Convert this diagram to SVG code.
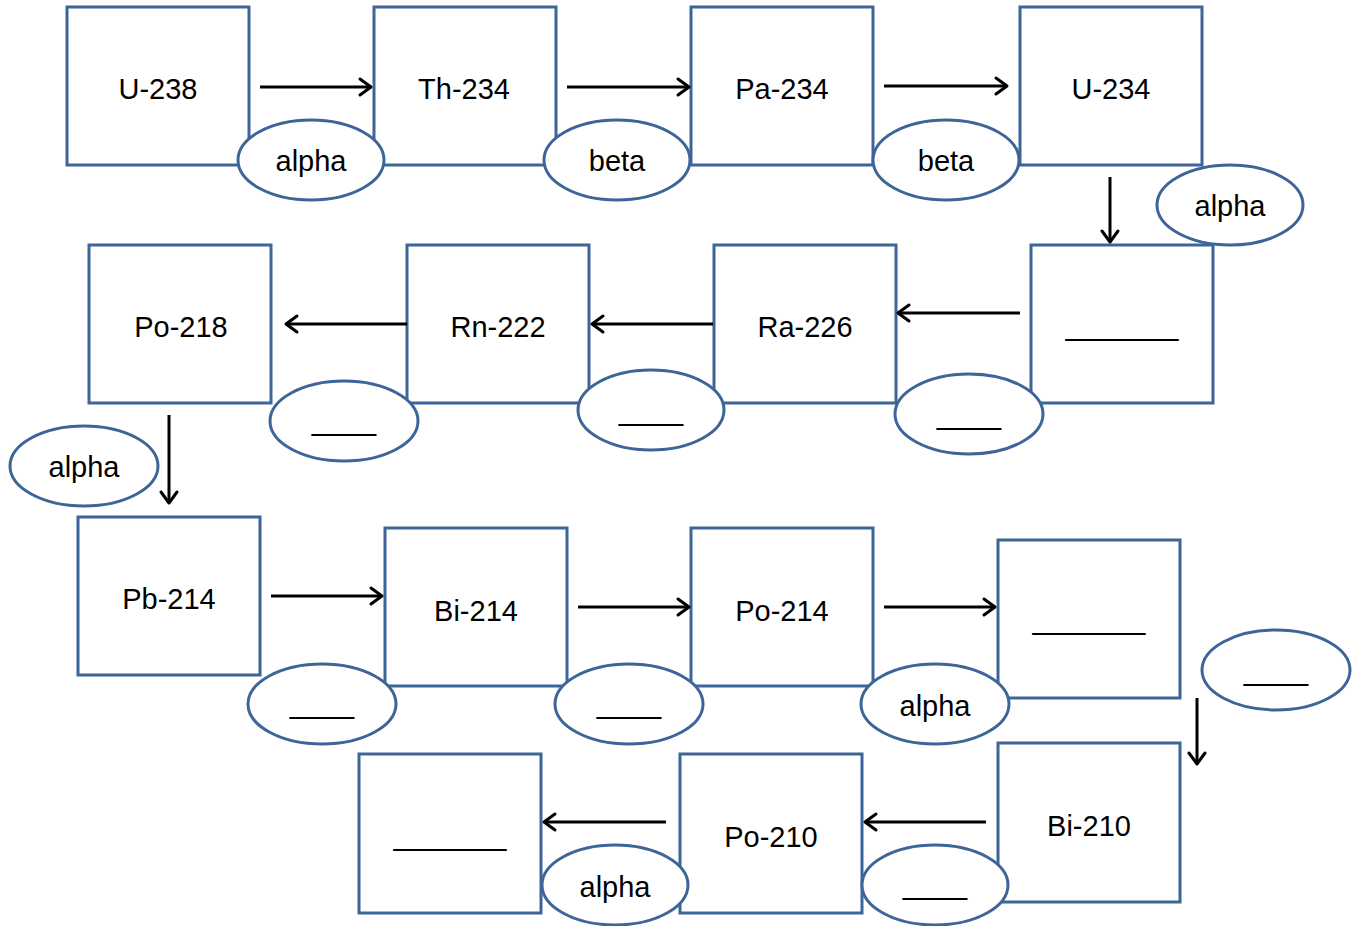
<svg xmlns="http://www.w3.org/2000/svg" width="1358" height="926" viewBox="0 0 1358 926">
<style>
.box{fill:#fff;stroke:#3d6598;stroke-width:3}
.ell{fill:#fff;stroke:#3d6598;stroke-width:3}
text{font-family:"Liberation Sans",Arial,sans-serif;font-size:29px;fill:#000;text-anchor:middle}
.arr{stroke:#000;stroke-width:3;fill:none;marker-end:url(#ah)}
</style>
<defs>
<marker id="ah" markerUnits="userSpaceOnUse" markerWidth="20" markerHeight="22" viewBox="-14 -11 16 22" refX="0" refY="0" orient="auto">
<path d="M-11,-8 L0,0 L-11,8" fill="none" stroke="#000" stroke-width="3" stroke-linecap="round" stroke-linejoin="round"/>
</marker>
</defs>
<rect width="1358" height="926" fill="#fff"/>
<!-- boxes -->
<g id="n-u238"><rect class="box" x="67" y="7" width="182" height="158"/><text x="158" y="99">U-238</text></g>
<g id="n-th234"><rect class="box" x="374" y="7" width="182" height="158"/><text x="464" y="99">Th-234</text></g>
<g id="n-pa234"><rect class="box" x="691" y="7" width="182" height="158"/><text x="782" y="99">Pa-234</text></g>
<g id="n-u234"><rect class="box" x="1020" y="7" width="182" height="158"/><text x="1111" y="99">U-234</text></g>
<g id="n-blank1"><rect class="box" x="1031" y="245" width="182" height="158"/><text x="1122" y="335">_______</text></g>
<g id="n-ra226"><rect class="box" x="714" y="245" width="182" height="158"/><text x="805" y="337">Ra-226</text></g>
<g id="n-rn222"><rect class="box" x="407" y="245" width="182" height="158"/><text x="498" y="337">Rn-222</text></g>
<g id="n-po218"><rect class="box" x="89" y="245" width="182" height="158"/><text x="181" y="337">Po-218</text></g>
<g id="n-pb214"><rect class="box" x="78" y="517" width="182" height="158"/><text x="169" y="609">Pb-214</text></g>
<g id="n-bi214"><rect class="box" x="385" y="528" width="182" height="158"/><text x="476" y="621">Bi-214</text></g>
<g id="n-po214"><rect class="box" x="691" y="528" width="182" height="158"/><text x="782" y="621">Po-214</text></g>
<g id="n-blank2"><rect class="box" x="998" y="540" width="182" height="158"/><text x="1089" y="629">_______</text></g>
<g id="n-bi210"><rect class="box" x="998" y="743" width="182" height="159"/><text x="1089" y="836">Bi-210</text></g>
<g id="n-po210"><rect class="box" x="680" y="754" width="182" height="159"/><text x="771" y="847">Po-210</text></g>
<g id="n-blank3"><rect class="box" x="359" y="754" width="182" height="159"/><text x="450" y="845">_______</text></g>
<!-- decay labels -->
<g id="d1"><ellipse class="ell" cx="311" cy="160" rx="73" ry="40"/><text x="311" y="171">alpha</text></g>
<g id="d2"><ellipse class="ell" cx="617" cy="160" rx="73" ry="40"/><text x="617" y="171">beta</text></g>
<g id="d3"><ellipse class="ell" cx="946" cy="160" rx="73" ry="40"/><text x="946" y="171">beta</text></g>
<g id="d4"><ellipse class="ell" cx="1230" cy="205" rx="73" ry="40"/><text x="1230" y="216">alpha</text></g>
<g id="d5"><ellipse class="ell" cx="969" cy="414" rx="74" ry="40"/><text x="969" y="424">____</text></g>
<g id="d6"><ellipse class="ell" cx="651" cy="410" rx="73" ry="40"/><text x="651" y="420">____</text></g>
<g id="d7"><ellipse class="ell" cx="344" cy="421" rx="74" ry="40"/><text x="344" y="430">____</text></g>
<g id="d8"><ellipse class="ell" cx="84" cy="466" rx="74" ry="40"/><text x="84" y="477">alpha</text></g>
<g id="d9"><ellipse class="ell" cx="322" cy="704" rx="74" ry="40"/><text x="322" y="713">____</text></g>
<g id="d10"><ellipse class="ell" cx="629" cy="704" rx="74" ry="40"/><text x="629" y="713">____</text></g>
<g id="d11"><ellipse class="ell" cx="935" cy="704" rx="74" ry="40"/><text x="935" y="716">alpha</text></g>
<g id="d12"><ellipse class="ell" cx="1276" cy="670" rx="74" ry="40"/><text x="1276" y="680">____</text></g>
<g id="d13"><ellipse class="ell" cx="935" cy="885" rx="73" ry="40"/><text x="935" y="894">____</text></g>
<g id="d14"><ellipse class="ell" cx="615" cy="885" rx="73" ry="40"/><text x="615" y="897">alpha</text></g>
<!-- connectors -->
<g id="connectors">
<line class="arr" x1="260" y1="87" x2="371" y2="87"/>
<line class="arr" x1="567" y1="87" x2="689" y2="87"/>
<line class="arr" x1="884" y1="86" x2="1007" y2="86"/>
<line class="arr" x1="1110" y1="177" x2="1110" y2="242"/>
<line class="arr" x1="1020" y1="313" x2="898" y2="313"/>
<line class="arr" x1="713" y1="324" x2="592" y2="324"/>
<line class="arr" x1="407" y1="324" x2="286" y2="324"/>
<line class="arr" x1="169" y1="415" x2="169" y2="503"/>
<line class="arr" x1="271" y1="596" x2="382" y2="596"/>
<line class="arr" x1="578" y1="607" x2="689" y2="607"/>
<line class="arr" x1="884" y1="607" x2="995" y2="607"/>
<line class="arr" x1="1197" y1="698" x2="1197" y2="764"/>
<line class="arr" x1="986" y1="822" x2="865" y2="822"/>
<line class="arr" x1="666" y1="822" x2="544" y2="822"/>
</g>
</svg>
